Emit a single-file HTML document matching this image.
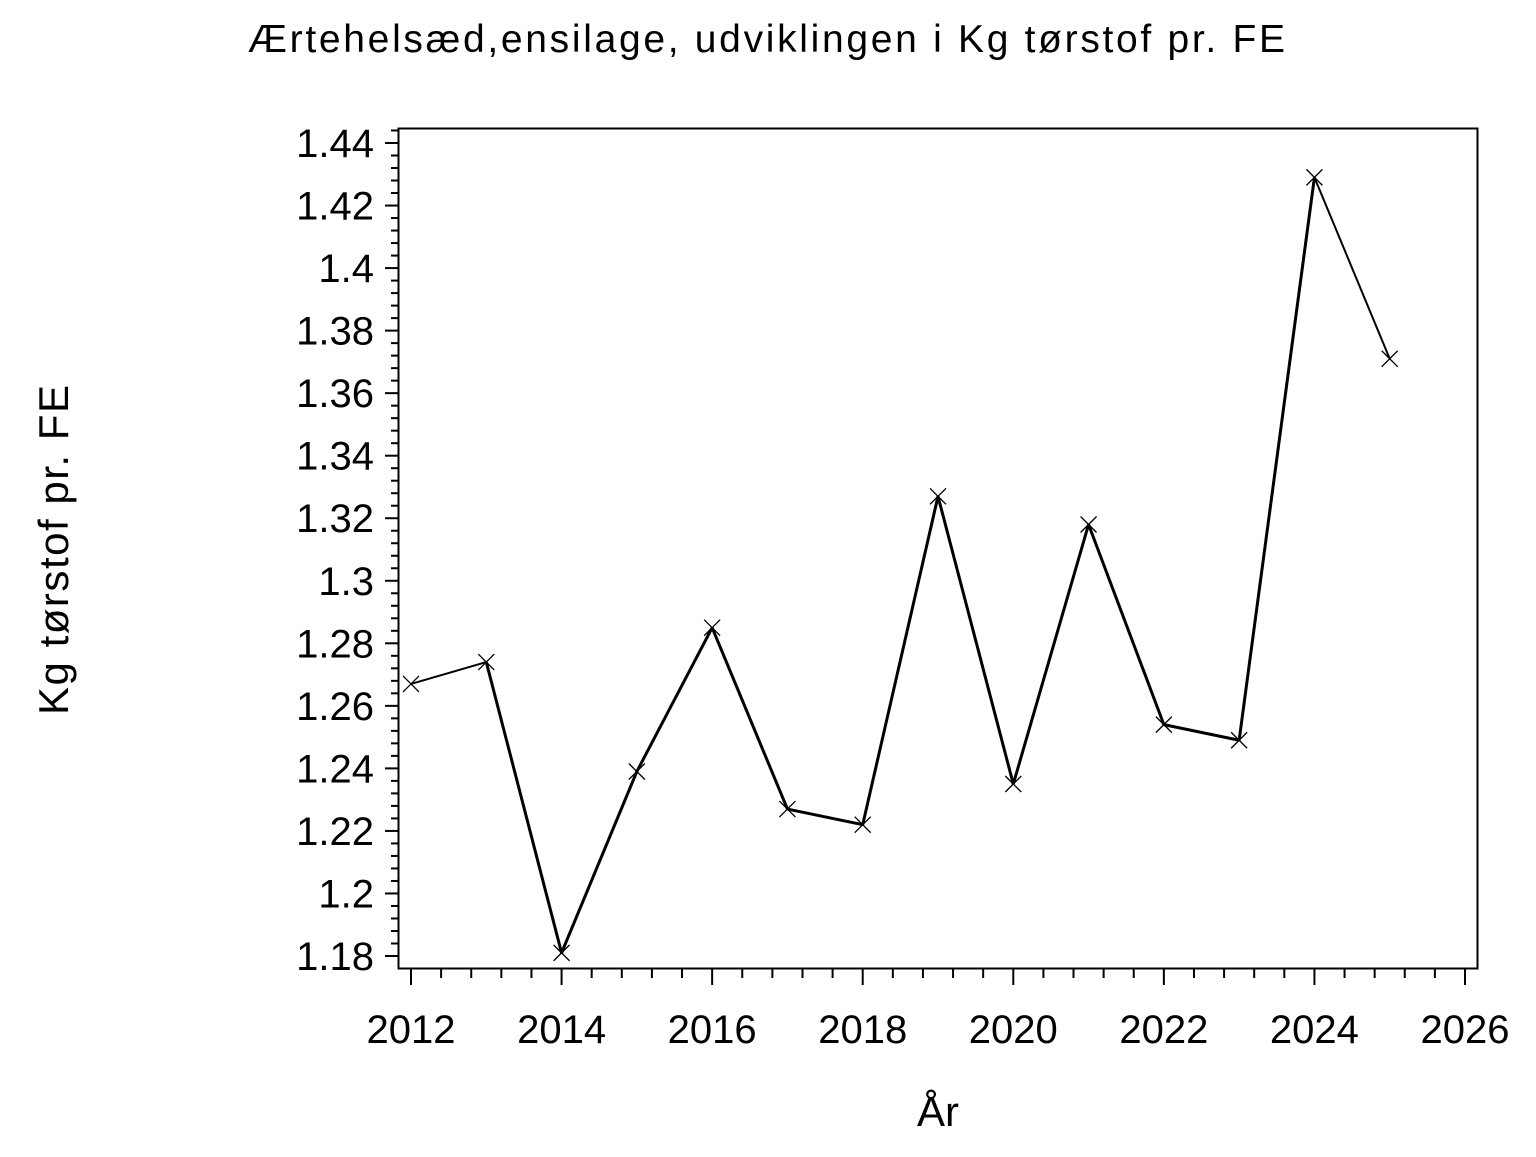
<!DOCTYPE html>
<html><head><style>body{margin:0;background:#fff}</style></head><body>
<svg width="1536" height="1152" xmlns="http://www.w3.org/2000/svg" font-family="Liberation Sans, Arial, sans-serif">
<rect width="1536" height="1152" fill="#fff"/>
<text x="248" y="52" font-size="39" textLength="1037" lengthAdjust="spacing">Ærtehelsæd,ensilage,  udviklingen  i  Kg  tørstof  pr.  FE</text>
<rect x="398.5" y="128.5" width="1079" height="840" fill="none" stroke="#000" stroke-width="2"/>
<g id="yt" stroke="#000" stroke-width="2"></g>
<g id="xt" stroke="#000" stroke-width="2"></g>
<g id="yl" font-size="40" text-anchor="end"></g>
<g id="xl" font-size="40" text-anchor="middle"></g>
<text x="938" y="1126" font-size="42" text-anchor="middle">År</text>
<text transform="translate(68,715) rotate(-90)" font-size="42" textLength="330" lengthAdjust="spacing">Kg  tørstof  pr.  FE</text>
<g id="d" fill="none" stroke="#000"></g>
</svg>
<script>
const ns="http://www.w3.org/2000/svg";
function el(p,t,a,txt){const e=document.createElementNS(ns,t);for(const k in a)e.setAttribute(k,a[k]);if(txt)e.textContent=txt;document.getElementById(p).appendChild(e);}
const y0=956,py=(956-143)/0.26;
function Y(v){return y0-(v-1.18)*py}
for(let i=-1;i<=66;i++){const v=1.18+i*0.004;const y=Y(v);if(y<130||y>968)continue;const maj=i%5==0;
el('yt','line',{x1:maj?385:391,x2:398,y1:y,y2:y});
if(maj){el('yl','text',{x:374,y:y+14},(Math.round(v*100)/100).toString());}}
const x0=411,px=(1465-411)/14;
function X(v){return x0+(v-2012)*px}
for(let i=0;i<=35;i++){const v=2012+i*0.4;const x=X(v);const maj=i%5==0;
el('xt','line',{x1:x,x2:x,y1:969,y2:maj?985:978});
if(maj)el('xl','text',{x:x,y:1043},(2012+i/5*2).toString());}
const d=[1.267,1.274,1.181,1.239,1.285,1.227,1.222,1.327,1.235,1.318,1.254,1.249,1.429,1.371];
const pts=d.map((v,i)=>[X(2012+i),Y(v)]);
for(let i=0;i<pts.length-1;i++){el('d','line',{x1:pts[i][0],y1:pts[i][1],x2:pts[i+1][0],y2:pts[i+1][1],'stroke-width':(i==0||i==12)?2:3});}
pts.forEach(p=>{el('d','path',{d:`M${p[0]-8} ${p[1]-8}L${p[0]+8} ${p[1]+8}M${p[0]-8} ${p[1]+8}L${p[0]+8} ${p[1]-8}`,'stroke-width':1.3});});
</script>
</body></html>
